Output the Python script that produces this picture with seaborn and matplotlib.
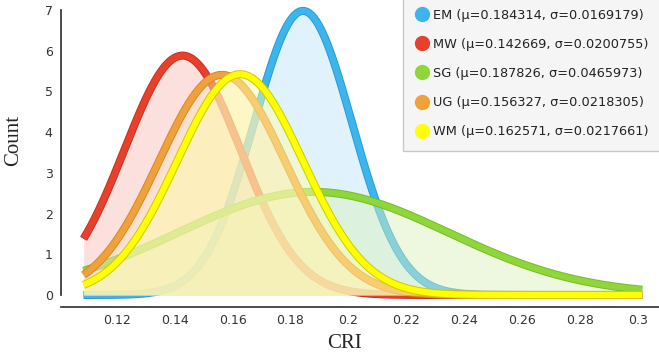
import numpy as np
import pandas as pd
import matplotlib
matplotlib.use("Agg")
import matplotlib.pyplot as plt
import matplotlib.patheffects as pe
from matplotlib.colors import to_rgb
from matplotlib.lines import Line2D
import seaborn as sns

# -------------------------------
# Data (fitted normal curves, read from legend / picture)
# -------------------------------
groups = ["EM", "MW", "SG", "UG", "WM"]
mu = [0.184314, 0.142669, 0.187826, 0.156327, 0.162571]
sigma = [0.0169179, 0.0200755, 0.0465973, 0.0218305, 0.0217661]
count_scale = 0.296          # N * bin width, estimated from the peak heights
cri_range = [0.1085, 0.3015]  # range covered by the curves

line_colors = ["#3cb5ef", "#e8412b", "#8fd63a", "#f0a23a", "#ffff00"]
edge_colors = ["#2b9ad6", "#c92f1f", "#74bd25", "#d8862a", "#cfc800"]

xticks = [0.12, 0.14, 0.16, 0.18, 0.2, 0.22, 0.24, 0.26, 0.28, 0.3]
xtick_labels = ["0.12", "0.14", "0.16", "0.18", "0.2", "0.22", "0.24", "0.26", "0.28", "0.3"]
yticks = [0, 1, 2, 3, 4, 5, 6, 7]

# -------------------------------
# Build curves
# -------------------------------
x = np.linspace(cri_range[0], cri_range[1], 500)
frames = []
for g, m, s in zip(groups, mu, sigma):
    y = count_scale * np.exp(-0.5 * ((x - m) / s) ** 2) / (s * np.sqrt(2 * np.pi))
    frames.append(pd.DataFrame({"CRI": x, "Count": y, "group": g}))
df = pd.concat(frames, ignore_index=True)


def pastel(c, k=0.33):
    r = np.array(to_rgb(c))
    return tuple(k * r + (1 - k) * np.ones(3))


# -------------------------------
# Plot
# -------------------------------
sns.set_theme(style="white")
plt.rcParams["font.family"] = ["DejaVu Sans"]

fig = plt.figure(figsize=(6.59, 3.6), dpi=100)
ax = fig.add_axes([61 / 659, 53 / 360, 598 / 659, 302 / 360])

for i, g in enumerate(groups):
    sub = df[df["group"] == g]
    ax.fill_between(sub["CRI"], 0, sub["Count"], color=pastel(line_colors[i]),
                    alpha=0.48, linewidth=0, zorder=2 * i + 1)
    sns.lineplot(data=sub, x="CRI", y="Count", ax=ax, color=line_colors[i],
                 linewidth=4.4, solid_capstyle="butt", zorder=2 * i + 2,
                 path_effects=[pe.Stroke(linewidth=5.8, foreground=edge_colors[i],
                                         capstyle="butt"), pe.Normal()])

ax.set_xlim(0.1007, 0.3073)
ax.set_ylim(-0.295, 7.125)

ax.set_xticks(xticks)
ax.set_xticklabels(xtick_labels)
ax.set_yticks(yticks)
ax.tick_params(axis="both", direction="in", length=3, width=0.8, color="#555555",
               labelsize=9, labelcolor="#333333")
ax.tick_params(axis="x", pad=5)
ax.tick_params(axis="y", pad=6)

for side in ["top", "right"]:
    ax.spines[side].set_visible(False)
ax.spines["left"].set_bounds(0, 7)
ax.spines["left"].set_color("#333333")
ax.spines["bottom"].set_color("#333333")
ax.set_xlabel("")
ax.set_ylabel("")

fig.text(14 / 659, 1 - 140 / 360, "Count", rotation=90, ha="center", va="center",
         fontsize=15, family="Liberation Serif")
fig.text(345 / 659, 1 - 344 / 360, "CRI", ha="center", va="center",
         fontsize=15, family="Liberation Serif")

handles = [Line2D([], [], marker="o", linestyle="", markersize=10,
                  color=line_colors[i], markeredgecolor=line_colors[i])
           for i in range(len(groups))]
labels = [f"{g} (\u03bc={m}, \u03c3={s})" for g, m, s in zip(groups, mu, sigma)]
leg = ax.legend(handles, labels, loc="upper left",
                bbox_to_anchor=(403 / 659, 1.01), bbox_transform=fig.transFigure,
                frameon=True, fancybox=False, framealpha=1, fontsize=9.3,
                labelspacing=1.25, handlelength=1.0, handletextpad=0.4,
                borderpad=0.95, borderaxespad=0)
leg.get_frame().set_facecolor("#f5f5f5")
leg.get_frame().set_edgecolor("#c8c8c8")
leg.set_zorder(20)
for t in leg.get_texts():
    t.set_color("#222222")

fig.savefig("out.png", dpi=100)
